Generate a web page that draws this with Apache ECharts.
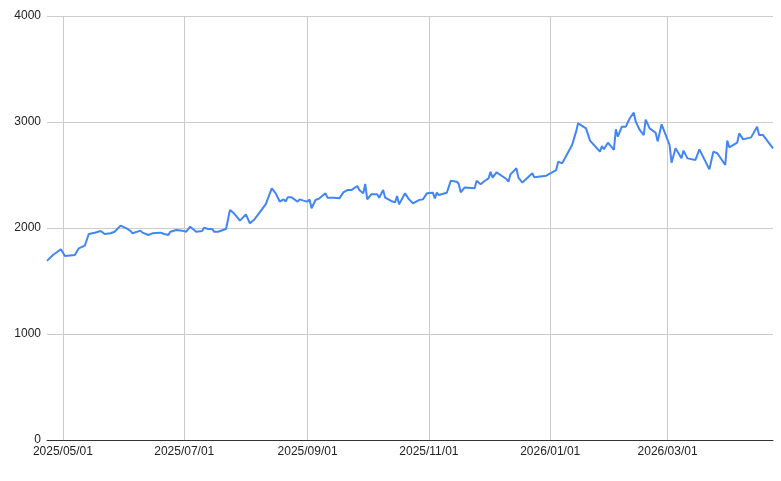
<!DOCTYPE html>
<html>
<head>
<meta charset="utf-8">
<script src="https://cdn.jsdelivr.net/npm/echarts@6/dist/echarts.min.js"></script>
<style>html,body{margin:0;padding:0;background:#fff;}#c{width:781px;height:481px;}</style>
</head>
<body>
<div id="c"></div>
<script>
const dates = [
'2025-04-23','2025-04-26','2025-04-30','2025-05-02','2025-05-07','2025-05-09','2025-05-12','2025-05-14','2025-05-15','2025-05-17',
'2025-05-20','2025-05-22','2025-05-25','2025-05-27','2025-05-28','2025-05-30','2025-06-02','2025-06-04','2025-06-05','2025-06-09',
'2025-06-10','2025-06-13','2025-06-15','2025-06-19','2025-06-21','2025-06-23','2025-06-24','2025-06-27','2025-06-30','2025-07-02',
'2025-07-04','2025-07-07','2025-07-10','2025-07-11','2025-07-13','2025-07-15','2025-07-16','2025-07-18','2025-07-22','2025-07-24',
'2025-07-26','2025-07-29','2025-08-01','2025-08-03','2025-08-05','2025-08-07','2025-08-11','2025-08-12','2025-08-14','2025-08-16',
'2025-08-18','2025-08-20','2025-08-21','2025-08-22','2025-08-24','2025-08-27','2025-08-28','2025-08-30','2025-09-01','2025-09-02',
'2025-09-03','2025-09-05','2025-09-07','2025-09-08','2025-09-10','2025-09-11','2025-09-14','2025-09-17','2025-09-19','2025-09-21',
'2025-09-23','2025-09-24','2025-09-26','2025-09-27','2025-09-29','2025-09-30','2025-10-01','2025-10-03','2025-10-06','2025-10-07',
'2025-10-09','2025-10-10','2025-10-13','2025-10-15','2025-10-16','2025-10-17','2025-10-20','2025-10-22','2025-10-24','2025-10-27',
'2025-10-29','2025-10-31','2025-11-03','2025-11-04','2025-11-05','2025-11-06','2025-11-10','2025-11-12','2025-11-15','2025-11-16',
'2025-11-17','2025-11-19','2025-11-24','2025-11-25','2025-11-27','2025-11-29','2025-12-01','2025-12-02','2025-12-03','2025-12-05',
'2025-12-10','2025-12-11','2025-12-12','2025-12-15','2025-12-16','2025-12-18','2025-12-23','2025-12-24','2025-12-30','2026-01-04',
'2026-01-05','2026-01-07','2026-01-12','2026-01-14','2026-01-15','2026-01-19','2026-01-21','2026-01-22','2026-01-26','2026-01-27',
'2026-01-28','2026-01-30','2026-02-02','2026-02-03','2026-02-04','2026-02-06','2026-02-08','2026-02-10','2026-02-12','2026-02-13',
'2026-02-15','2026-02-17','2026-02-18','2026-02-20','2026-02-23','2026-02-24','2026-02-26','2026-03-02','2026-03-03','2026-03-05',
'2026-03-08','2026-03-09','2026-03-11','2026-03-15','2026-03-17','2026-03-22','2026-03-24','2026-03-26','2026-03-30','2026-03-31',
'2026-04-01','2026-04-05','2026-04-06','2026-04-08','2026-04-12','2026-04-13','2026-04-15','2026-04-16','2026-04-18','2026-04-23'
];
const values = [
1690,1745,1799,1736,1745,1808,1833,1943,1934,1956,
1972,1943,1950,1965,1956,2022,1997,1972,1950,1975,
1956,1934,1950,1956,1943,1934,1965,1981,1975,1965,
2012,1965,1972,2003,1991,1991,1965,1965,1991,2170,
2139,2069,2129,2044,2075,2123,2226,2233,2374,2327,
2250,2270,2250,2289,2289,2248,2270,2258,2248,2270,
2186,2264,2280,2270,2327,2286,2286,2280,2336,2358,
2358,2365,2396,2358,2327,2415,2270,2318,2318,2286,
2358,2286,2255,2242,2302,2223,2327,2270,2233,2264,
2270,2327,2333,2280,2333,2311,2333,2446,2437,2415,
2336,2383,2374,2446,2412,2443,2468,2531,2475,2525,
2462,2437,2506,2563,2475,2429,2516,2478,2494,2547,
2626,2610,2783,2909,2987,2940,2824,2836,2720,2774,
2742,2805,2736,2931,2861,2956,2956,3035,3088,3003,
2925,2877,3022,2940,2899,2817,2978,2783,2616,2752,
2657,2730,2657,2642,2742,2553,2720,2705,2594,2824,
2761,2805,2893,2836,2855,2846,2956,2877,2877,2752
];
const xTickDates = ['2025-05-01','2025-07-01','2025-09-01','2025-11-01','2026-01-01','2026-03-01'];
const xMin = '2025-04-23', xMax = '2026-04-23';
const yMin = 0, yMax = 4000, yStep = 1000;

function ts(s){ const p = s.split('-').map(Number); return new Date(p[0], p[1]-1, p[2]).getTime(); }
const seriesData = dates.map((d,i)=>[ts(d), values[i]]);
const tickTs = xTickDates.map(ts);
const font = 'Arial, "Liberation Sans", sans-serif';

function fmtDate(v){ const d=new Date(v); const m=('0'+(d.getMonth()+1)).slice(-2), dd=('0'+d.getDate()).slice(-2); return d.getFullYear()+'/'+m+'/'+dd; }

const chart = echarts.init(document.getElementById('c'), null, {renderer:'canvas'});
chart.setOption({
  animation:false,
  backgroundColor:'#fff',
  grid:{left:47, right:8, top:16, bottom:41, containLabel:false},
  xAxis:{
    type:'value', min:ts(xMin), max:ts(xMax), scale:true,
    axisLine:{show:true, onZero:false, lineStyle:{color:'#333', width:1}},
    axisTick:{show:false, customValues:tickTs},
    axisLabel:{customValues:tickTs, color:'#222', fontSize:12, fontFamily:font, margin:6, formatter:fmtDate,
      showMinLabel:true, showMaxLabel:true},
    splitLine:{show:true, lineStyle:{color:'#cccccc', width:1}}
  },
  yAxis:{
    type:'value', min:yMin, max:yMax, interval:yStep,
    axisLine:{show:false}, axisTick:{show:false},
    axisLabel:{color:'#222', fontSize:12, fontFamily:font, margin:6, formatter:function(v){ return String(v); }},
    splitLine:{show:true, lineStyle:{color:'#cccccc', width:1}}
  },
  series:[{
    type:'line', data:seriesData, showSymbol:false, smooth:false,
    lineStyle:{color:'#4285f4', width:2}, itemStyle:{color:'#4285f4'}
  }]
});
</script>
</body>
</html>
